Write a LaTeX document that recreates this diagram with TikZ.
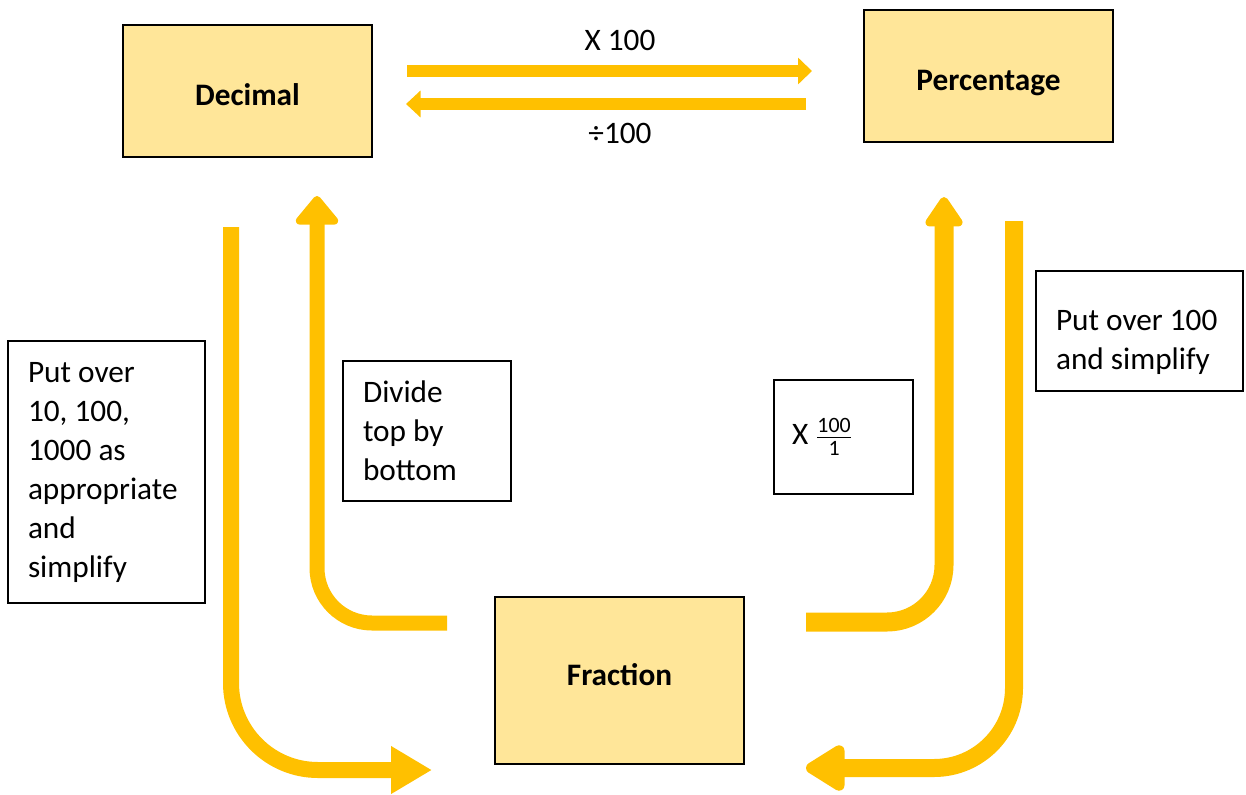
\documentclass[tikz,border=0pt]{standalone}
\usepackage{fontspec}
\usepackage{amsmath}
\setmainfont{Carlito}
\usetikzlibrary{arrows.meta, positioning}
\definecolor{arrowyellow}{HTML}{FFC000}
\definecolor{boxyellow}{HTML}{FFE699}
\newcommand{\bodyfont}{\fontsize{17.8}{22.2}\selectfont}
\tikzset{
    mainbox/.style={draw=black, line width=1.1pt, fill=boxyellow, minimum width=4.98cm, font=\bodyfont\bfseries},
    notebox/.style={draw=black, line width=0.8pt, fill=white, inner xsep=0.4cm,
        execute at begin node={\spaceskip=0pt\xspaceskip=0pt}},
    fatarrow/.style={draw=arrowyellow, line width=#1},
}

\begin{document}
\begin{tikzpicture}[x=0.02cm, y=-0.02cm, font=\bodyfont]
    \useasboundingbox (0,0) rectangle (1246,794);

    % Main boxes
    \node[mainbox, minimum height=2.64cm, text height=0.6cm, text depth=0cm] (decimal) at (247.5,91) {Decimal};
    \node[mainbox, minimum height=2.64cm, text height=0.6cm, text depth=0cm] (percent) at (988.5,76) {Percentage};
    \node[mainbox, minimum height=3.34cm, text height=0.4cm, text depth=0.22cm] (fraction) at (619.5,680.5) {Fraction};

    % Note boxes
    \node[notebox, text width=3.14cm, minimum height=5.24cm] (putover) at (106.5,472)
        {Put over\\10, 100,\\1000 as\\appropriate\\and\\simplify};
    \node[notebox, text width=2.56cm, minimum height=2.8cm] (divide) at (427,431)
        {Divide\\top by\\bottom};
    \node[notebox, inner xsep=0.36cm, text width=2.06cm, minimum height=2.28cm] (times) at (843.5,437)
        {X $\frac{\text{100}}{\text{1}}$};
    \node[notebox, text width=3.34cm, minimum height=2.4cm, text height=0.88cm] (puthundred) at (1139.5,331)
        {Put over 100\\and simplify};

    % Top arrows
    \coordinate (dr) at (407,71);
    \coordinate (pr) at (812,71);
    \coordinate (pl) at (806,104);
    \coordinate (dl) at (406,104);
    \draw[fatarrow=0.24cm, -{Triangle[width=0.52cm, length=0.28cm]}] (dr) -- (pr);
    \draw[fatarrow=0.26cm, -{Triangle[width=0.52cm, length=0.29cm]}] (pl) -- (dl);
    \node (timeslabel) at (620,40) {X 100};
    \node (divlabel) at (620,133) {÷100};

    % Decimal to fraction
    \coordinate (dstart) at (231,227);
    \coordinate (fleft) at (432,770);
    \draw[fatarrow=0.32cm, rounded corners=1.74cm, -{Triangle[width=0.9cm, length=0.82cm]}]
        (dstart) -- (231,770) -- (fleft);

    % Fraction to decimal
    \coordinate (fstart) at (447,623);
    \coordinate (dend) at (317,196);
    \draw[fatarrow=0.3cm, rounded corners=1.1cm, -{Triangle[width=0.98cm, length=0.62cm, round]}]
        (fstart) -- (317,623) -- (dend);

    % Fraction to percentage
    \coordinate (fright) at (806,622);
    \coordinate (pend) at (944,197);
    \draw[fatarrow=0.38cm, rounded corners=1.14cm, -{Triangle[width=0.84cm, length=0.66cm, round]}]
        (fright) -- (944,622) -- (pend);

    % Percentage to fraction
    \coordinate (pstart) at (1014,221);
    \coordinate (fend) at (806,768);
    \draw[fatarrow=0.36cm, rounded corners=1.6cm, -{Triangle[width=1.02cm, length=0.88cm, round]}]
        (pstart) -- (1014,768) -- (fend);
\end{tikzpicture}
\end{document}
